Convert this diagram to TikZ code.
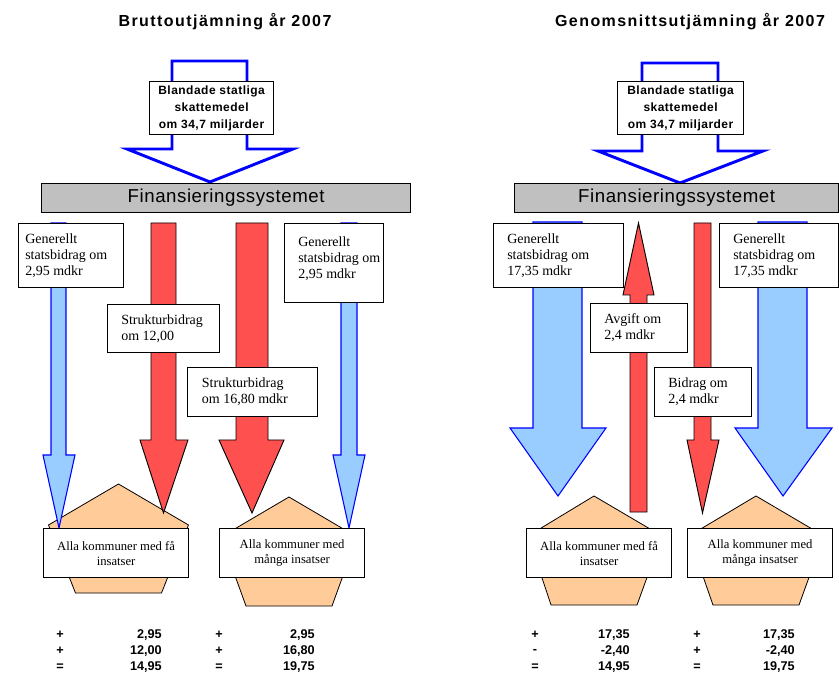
\documentclass[tikz,border=0pt]{standalone}
\usepackage{fontspec}
\setmainfont{Liberation Serif}
\setsansfont{Liberation Sans}
\newfontfamily\spacedfont[LetterSpace=4]{Liberation Sans}
\newfontfamily\titlefont[LetterSpace=9]{Liberation Sans}
\newfontfamily\finfont[LetterSpace=3]{Liberation Sans}
\definecolor{lblue}{HTML}{99CCFF}
\definecolor{lred}{HTML}{FF5050}
\definecolor{peach}{HTML}{FFCC99}
\definecolor{fgray}{HTML}{C0C0C0}
\begin{document}
\begin{tikzpicture}[x=0.75pt,y=-0.75pt,line join=miter,
  bluearrow/.style={draw=blue,fill=lblue,line width=0.8pt},
  redarrow/.style={draw=black,fill=lred,line width=0.7pt},
  toparrow/.style={draw=blue,fill=white,line width=2.2pt},
  pent/.style={draw=black,fill=peach,line width=0.6pt},
  box/.style={draw=black,fill=white,line width=0.9pt,rectangle,inner sep=0pt,anchor=north west},
  finbox/.style={draw=black,fill=fgray,line width=0.9pt,rectangle,inner sep=0pt,anchor=north west,font=\finfont\fontsize{14}{16}\selectfont},
  txt/.style={font=\fontsize{10.5}{12}\selectfont,align=left,inner sep=0pt,anchor=west},
  allabox/.style={box,font=\fontsize{9.5}{11.25}\selectfont,align=center},
  topbox/.style={box,font=\spacedfont\bfseries\fontsize{9}{12.75}\selectfont,align=center},
  num/.style={font=\sffamily\bfseries\fontsize{9.5}{12}\selectfont,inner sep=0pt},
  ttl/.style={font=\titlefont\bfseries\fontsize{12}{14}\selectfont,inner sep=0pt}]
\useasboundingbox (0,0) rectangle (839,673);
\fill[white] (0,0) rectangle (839,673);

% ---------------- titles
\node[ttl] (t1) at (225,22) {Bruttoutjämning år 2007};
\node[ttl] (t2) at (690,22) {Genomsnittsutjämning år 2007};

% ---------------- pentagons
\draw[pent] (118.5,484) -- (188.5,525) -- (161.5,593) -- (75.5,593) -- (48.5,525) -- cycle;
\draw[pent] (289,497) -- (357,537) -- (332,606) -- (246,606) -- (221,537) -- cycle;
\draw[pent] (594,496) -- (662,536) -- (637,605) -- (551,605) -- (528,536) -- cycle;
\draw[pent] (756,496) -- (824,536) -- (799,605) -- (713,605) -- (689,536) -- cycle;

% ---------------- top arrows
\draw[toparrow] (172,61) -- (247,61) -- (247,149) -- (293,149) -- (210,182) -- (127,149) -- (172,149) -- cycle;
\draw[toparrow] (642,63) -- (718,63) -- (718,151) -- (763,151) -- (680,183) -- (598,151) -- (642,151) -- cycle;

% ---------------- panel 1 arrows
\draw[bluearrow] (51,223) -- (66,223) -- (66,455) -- (75,455) -- (59,528) -- (43,455) -- (51,455) -- cycle;
\draw[bluearrow] (341,223) -- (357,223) -- (357,455) -- (365,455) -- (349,528) -- (333,455) -- (341,455) -- cycle;
\draw[redarrow] (151,223) -- (176,223) -- (176,440) -- (188,440) -- (163.5,513) -- (140,440) -- (151,440) -- cycle;
\draw[redarrow] (236,223) -- (268,223) -- (268,440) -- (284,440) -- (252,513) -- (219,440) -- (236,440) -- cycle;

% ---------------- panel 2 arrows
\draw[bluearrow] (533,222) -- (582,222) -- (582,428) -- (606,428) -- (558,496) -- (510,428) -- (533,428) -- cycle;
\draw[bluearrow] (758,222) -- (807,222) -- (807,428) -- (832,428) -- (783,496) -- (735,428) -- (758,428) -- cycle;
\draw[redarrow] (630,512) -- (647,512) -- (647,295) -- (654,295) -- (638.5,223) -- (623,295) -- (630,295) -- cycle;
\draw[redarrow] (694,223) -- (711,223) -- (711,440) -- (719,440) -- (702.5,513) -- (687,440) -- (694,440) -- cycle;

% ---------------- top boxes
\node[topbox,minimum width={0.75pt*124},minimum height={0.75pt*53}] (b1) at (149,81) {Blandade statliga\\skattemedel\\om 34,7 miljarder};
\node[topbox,minimum width={0.75pt*126},minimum height={0.75pt*53}] (b2) at (617,81) {Blandade statliga\\skattemedel\\om 34,7 miljarder};

% ---------------- financing system boxes
\node[finbox,minimum width={0.75pt*369},minimum height={0.75pt*29}] (f1) at (41,183) {Finansieringssystemet};
\node[finbox,minimum width={0.75pt*324},minimum height={0.75pt*29}] (f2) at (514,183) {Finansieringssystemet};

% ---------------- panel 1 label boxes
\node[box,minimum width={0.75pt*105},minimum height={0.75pt*64}] (g1) at (18,223) {};
\node[txt] (g1t) at ([xshift=5.25pt]g1.west) {Generellt\\statsbidrag om\\2,95 mdkr};
\node[box,minimum width={0.75pt*99},minimum height={0.75pt*79}] (g2) at (284,223) {};
\node[txt] (g2t) at ([xshift=10.5pt,yshift=3pt]g2.west) {Generellt\\statsbidrag om\\2,95 mdkr};
\node[box,minimum width={0.75pt*112},minimum height={0.75pt*48}] (s1) at (107,304) {};
\node[txt] (s1t) at ([xshift=10.5pt]s1.west) {Strukturbidrag\\om 12,00};
\node[box,minimum width={0.75pt*130},minimum height={0.75pt*49}] (s2) at (187,367) {};
\node[txt] (s2t) at ([xshift=11pt]s2.west) {Strukturbidrag\\om 16,80 mdkr};

% ---------------- panel 2 label boxes
\node[box,minimum width={0.75pt*130},minimum height={0.75pt*64}] (g3) at (493,223) {};
\node[txt] (g3t) at ([xshift=10.5pt]g3.west) {Generellt\\statsbidrag om\\17,35 mdkr};
\node[box,minimum width={0.75pt*119},minimum height={0.75pt*64}] (g4) at (719,223) {};
\node[txt] (g4t) at ([xshift=10.5pt]g4.west) {Generellt\\statsbidrag om\\17,35 mdkr};
\node[box,minimum width={0.75pt*97},minimum height={0.75pt*49}] (a1) at (590,303) {};
\node[txt] (a1t) at ([xshift=10.5pt]a1.west) {Avgift om\\2,4 mdkr};
\node[box,minimum width={0.75pt*97},minimum height={0.75pt*49}] (d1) at (654,367) {};
\node[txt] (d1t) at ([xshift=10.5pt]d1.west) {Bidrag om\\2,4 mdkr};

% ---------------- municipality boxes
\node[allabox,minimum width={0.75pt*145},minimum height={0.75pt*49}] (k1) at (43,528) {Alla kommuner med få\\insatser};
\node[allabox,minimum width={0.75pt*145},minimum height={0.75pt*49}] (k2) at (219,528) {Alla kommuner med\\många insatser};
\node[allabox,minimum width={0.75pt*145},minimum height={0.75pt*49}] (k3) at (526,528) {Alla kommuner med få\\insatser};
\node[allabox,minimum width={0.75pt*145},minimum height={0.75pt*49}] (k4) at (687,528) {Alla kommuner med\\många insatser};

% ---------------- sums panel 1
\node[num] (p1a) at (60,635) {+};
\node[num] (p1b) at (60,651) {+};
\node[num] (p1c) at (60,667) {=};
\node[num,anchor=east] (v1a) at (162,635) {2,95};
\node[num,anchor=east] (v1b) at (162,651) {12,00};
\node[num,anchor=east] (v1c) at (162,667) {14,95};
\node[num] (p2a) at (219,635) {+};
\node[num] (p2b) at (219,651) {+};
\node[num] (p2c) at (219,667) {=};
\node[num,anchor=east] (v2a) at (315,635) {2,95};
\node[num,anchor=east] (v2b) at (315,651) {16,80};
\node[num,anchor=east] (v2c) at (315,667) {19,75};

% ---------------- sums panel 2
\node[num] (p3a) at (535,635) {+};
\node[num] (p3b) at (535,651) {-};
\node[num] (p3c) at (535,667) {=};
\node[num,anchor=east] (v3a) at (630,635) {17,35};
\node[num,anchor=east] (v3b) at (630,651) {-2,40};
\node[num,anchor=east] (v3c) at (630,667) {14,95};
\node[num] (p4a) at (697,635) {+};
\node[num] (p4b) at (697,651) {+};
\node[num] (p4c) at (697,667) {=};
\node[num,anchor=east] (v4a) at (795,635) {17,35};
\node[num,anchor=east] (v4b) at (795,651) {-2,40};
\node[num,anchor=east] (v4c) at (795,667) {19,75};
\end{tikzpicture}
\end{document}
